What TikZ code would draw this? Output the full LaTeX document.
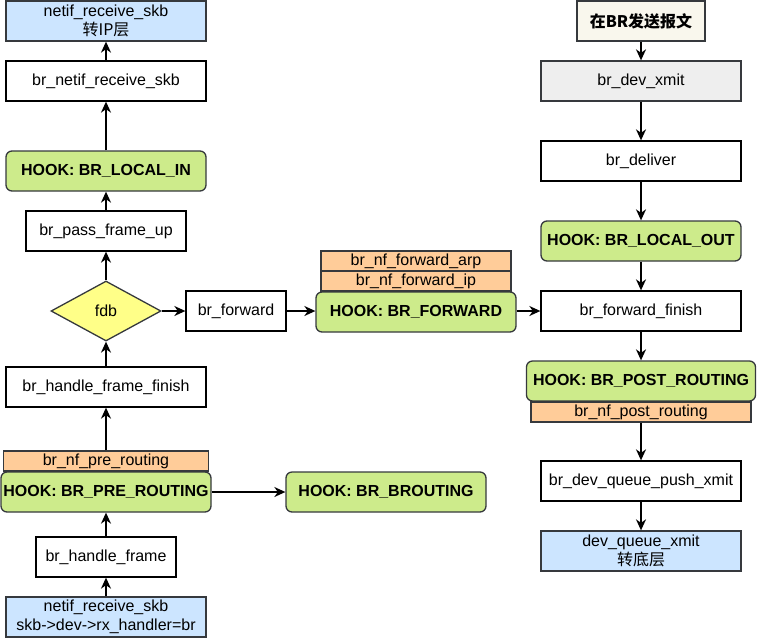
\documentclass[tikz,border=0pt]{standalone}
\usepackage{fontspec}
\setmainfont{Liberation Sans}
\newfontfamily\cjk{Noto Sans CJK SC}
\usetikzlibrary{shapes.geometric,arrows.meta}
\definecolor{hookgreen}{HTML}{CDEB8B}
\definecolor{nforange}{HTML}{FFCC99}
\definecolor{layerblue}{HTML}{CCE5FF}
\definecolor{fdbyellow}{HTML}{FFFF88}
\definecolor{xmitgray}{HTML}{EEEEEE}
\definecolor{sendcream}{HTML}{F9F7ED}
\definecolor{edgegray}{HTML}{36393D}
\tikzset{
    func/.style={draw=black, line width=1.3pt, fill=white, inner sep=0pt,
        minimum width=200pt, minimum height=40pt, font=\fontsize{16}{19}\selectfont},
    hook/.style={func, draw=edgegray, fill=hookgreen, rounded corners=6pt,
        font=\fontsize{16}{19}\selectfont\bfseries},
    nfcall/.style={func, draw=edgegray, fill=nforange, minimum height=20pt},
    layer/.style={func, draw=edgegray, fill=layerblue, align=center},
    flow/.style={line width=1.6pt, -{Stealth[length=11pt,width=10pt,inset=3.5pt]}},
}
\begin{document}
\begin{tikzpicture}[x=1pt,y=-1pt]
\useasboundingbox (0,0) rectangle (757,638);

% receive path
\node[layer] (ipup) at (106,21) {netif\_receive\_skb\\{\cjk 转IP层}};
\node[func] (brnetif) at (106,81) {br\_netif\_receive\_skb};
\node[hook] (localin) at (106,171) {HOOK: BR\_LOCAL\_IN};
\node[func, minimum width=160pt] (passup) at (106,231) {br\_pass\_frame\_up};
\node[diamond, draw=edgegray, line width=1.3pt, fill=fdbyellow, inner sep=0pt,
    minimum width=110pt, minimum height=60pt, font=\fontsize{16}{19}\selectfont] (fdb) at (106,311) {fdb};
\node[func] (hff) at (106,387) {br\_handle\_frame\_finish};
\node[nfcall, minimum width=205pt] (nfpre) at (106,461) {br\_nf\_pre\_routing};
\node[hook, minimum width=210pt] (prerouting) at (106,492) {HOOK: BR\_PRE\_ROUTING};
\node[hook] (brouting) at (386,492) {HOOK: BR\_BROUTING};
\node[func, minimum width=140pt] (handle) at (106,557) {br\_handle\_frame};
\node[layer] (rxin) at (106,617) {netif\_receive\_skb\\skb->dev->rx\_handler=br};

% forward path
\node[func, minimum width=100pt] (brforward) at (236,311) {br\_forward};
\node[nfcall, minimum width=190pt] (nfarp) at (416,261) {br\_nf\_forward\_arp};
\node[nfcall, minimum width=190pt] (nfip) at (416,281) {br\_nf\_forward\_ip};
\node[hook] (fwdhook) at (416,312) {HOOK: BR\_FORWARD};

% send path
\node[func, draw=edgegray, fill=sendcream, minimum width=128pt,
    font=\fontsize{16}{19}\selectfont\bfseries] (sendbr) at (641,21) {\cjk 在BR发送报文};
\node[func, draw=edgegray, fill=xmitgray] (devxmit) at (641,81) {br\_dev\_xmit};
\node[func] (deliver) at (641,161) {br\_deliver};
\node[hook] (localout) at (641,241) {HOOK: BR\_LOCAL\_OUT};
\node[func] (fwdfinish) at (641,311) {br\_forward\_finish};
\node[hook, minimum width=229pt] (postrouting) at (641,381) {HOOK: BR\_POST\_ROUTING};
\node[nfcall, minimum width=220pt] (nfpost) at (641,412) {br\_nf\_post\_routing};
\node[func] (pushxmit) at (641,481) {br\_dev\_queue\_push\_xmit};
\node[layer] (devq) at (641,551) {dev\_queue\_xmit\\{\cjk 转底层}};

\draw[flow] (rxin) -- (handle);
\draw[flow] (handle) -- (prerouting);
\draw[flow] (prerouting) -- (brouting);
\draw[flow] (nfpre) -- (hff);
\draw[flow] (hff) -- (fdb);
\draw[flow] (fdb) -- (passup);
\draw[flow] (passup) -- (localin);
\draw[flow] (localin) -- (brnetif);
\draw[flow] (brnetif) -- (ipup);
\draw[flow] (fdb) -- (brforward);
\draw[flow] (brforward) -- (fwdhook.west |- brforward);
\draw[flow] (fwdhook.east |- fwdfinish) -- (fwdfinish);
\draw[flow] (sendbr) -- (devxmit);
\draw[flow] (devxmit) -- (deliver);
\draw[flow] (deliver) -- (localout);
\draw[flow] (localout) -- (fwdfinish);
\draw[flow] (fwdfinish) -- (postrouting);
\draw[flow] (nfpost) -- (pushxmit);
\draw[flow] (pushxmit) -- (devq);
\end{tikzpicture}
\end{document}
